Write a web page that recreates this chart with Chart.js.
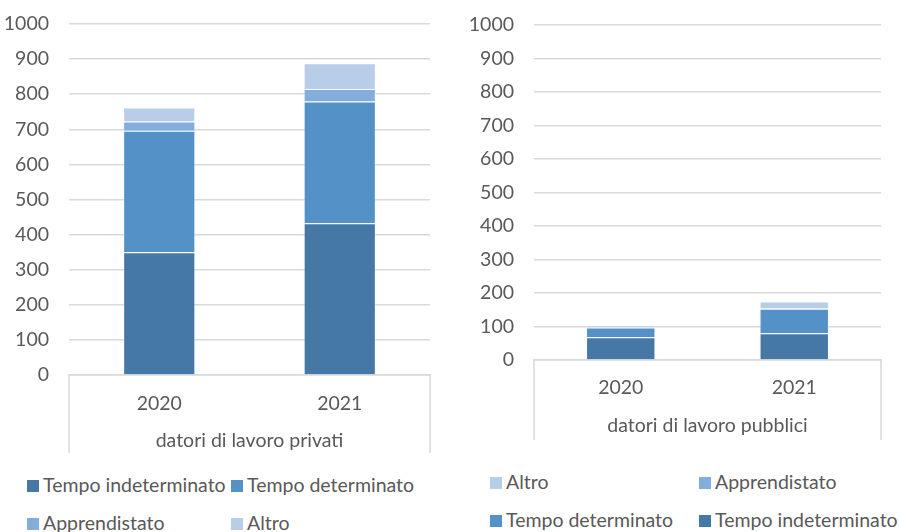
<!DOCTYPE html>
<html>
<head>
<meta charset="utf-8">
<script src="https://cdn.jsdelivr.net/npm/chart.js@4.4.0/dist/chart.umd.min.js"></script>
<style>
  body { margin: 0; background: #fff; width: 899px; height: 532px; position: relative; overflow: hidden; font-family: Lato, sans-serif; }
  .wrap { position: absolute; top: 0; }
  .legend { position: absolute; font-size: 19.5px; color: #595959; }
  .legend .item { position: absolute; white-space: nowrap; line-height: 22px; }
  .legend .sw { display: inline-block; width: 12px; height: 12px; margin-right: 4px; vertical-align: 0px; }
</style>
</head>
<body>
<div class="wrap" style="left:0;width:450px;height:460px"><canvas id="privChart"></canvas></div>
<div class="wrap" style="left:450px;width:449px;height:445px"><canvas id="pubChart"></canvas></div>
<div class="legend" id="privLegend"></div>
<div class="legend" id="pubLegend"></div>
<script>
const years = ['2020', '2021'];
const seriesNames = ['Tempo indeterminato', 'Tempo determinato', 'Apprendistato', 'Altro'];
const seriesColors = ['#4678A6', '#5491C7', '#83ADDB', '#B8CDE8'];

// datori di lavoro privati
const privIndet = [350, 432];
const privDet = [346, 347];
const privAppr = [26, 36];
const privAltro = [40, 73];

// datori di lavoro pubblici
const pubIndet = [68, 80];
const pubDet = [29, 73];
const pubAppr = [1, 1];
const pubAltro = [6, 21];

const yTicks = [0, 100, 200, 300, 400, 500, 600, 700, 800, 900, 1000];
const grey = '#595959';
const lineGrey = '#d9d9d9';

// vertical lines of the category axis box (Excel multi-level axis look)
const boxLines = {
    id: 'boxLines',
    afterDraw(chart, args, opts) {
        const x = chart.scales.x;
        const ctx = chart.ctx;
        ctx.save();
        ctx.strokeStyle = lineGrey;
        ctx.lineWidth = 1.5;
        ctx.beginPath();
        [x.left, x.right].forEach(px => {
            ctx.moveTo(px, x.top);
            ctx.lineTo(px, x.top + opts.depth);
        });
        ctx.stroke();
        ctx.restore();
    }
};

function makeChart(id, values, group, cfg) {
    const datasets = seriesNames.map((name, i) => ({
        label: name,
        data: values[i],
        backgroundColor: seriesColors[i],
        borderColor: 'rgba(255,255,255,0.45)',
        borderWidth: 1,
        barPercentage: 0.4,
        categoryPercentage: 1
    }));
    return new Chart(document.getElementById(id), {
        type: 'bar',
        data: { labels: years, datasets: datasets },
        plugins: [boxLines],
        options: {
            responsive: true,
            maintainAspectRatio: false,
            animation: false,
            layout: { padding: { top: cfg.top, right: cfg.right, bottom: 0, left: 0 } },
            plugins: {
                legend: { display: false },
                tooltip: { enabled: false },
                boxLines: { depth: cfg.depth }
            },
            scales: {
                x: {
                    stacked: true,
                    grid: { display: false },
                    border: { display: true, color: lineGrey, width: 1.5 },
                    ticks: { color: grey, font: { family: 'Lato', size: 19.5 }, padding: cfg.tickPad },
                    title: { display: true, text: group, color: grey, font: { family: 'Lato', size: 19.5 }, padding: { top: 0, bottom: cfg.titlePad } },
                    afterFit: s => { s.height = cfg.xHeight; s.paddingLeft = 0; s.paddingRight = 0; }
                },
                y: {
                    stacked: true,
                    min: 0,
                    max: 1000,
                    afterBuildTicks: s => { s.ticks = yTicks.map(v => ({ value: v })); },
                    grid: { color: lineGrey, lineWidth: 1.5, drawTicks: false },
                    border: { display: false },
                    ticks: { color: grey, font: { family: 'Lato', size: 19.5 }, padding: 20, callback: v => String(v) },
                    afterFit: s => { s.width = cfg.yWidth; s.paddingTop = 0; s.paddingBottom = 0; }
                }
            }
        }
    });
}

function makeLegend(id, order, box) {
    const el = document.getElementById(id);
    el.style.left = box.left + 'px';
    el.style.top = box.top + 'px';
    order.forEach((idx, k) => {
        const item = document.createElement('div');
        item.className = 'item';
        item.style.left = (k % 2) * box.colGap + 'px';
        item.style.top = Math.floor(k / 2) * box.rowGap + 'px';
        item.innerHTML = '<span class="sw" style="background:' + seriesColors[idx] + '"></span>' + seriesNames[idx];
        el.appendChild(item);
    });
}

makeChart('privChart', [privIndet, privDet, privAppr, privAltro], 'datori di lavoro privati',
    { top: 24, right: 20, yWidth: 69, xHeight: 85, tickPad: 9, titlePad: 8, depth: 78 });
makeChart('pubChart', [pubIndet, pubDet, pubAppr, pubAltro], 'datori di lavoro pubblici',
    { top: 25, right: 18, yWidth: 84, xHeight: 85, tickPad: 8, titlePad: 8, depth: 80 });

makeLegend('privLegend', [0, 1, 2, 3], { left: 27, top: 474, colGap: 204, rowGap: 38 });
makeLegend('pubLegend', [3, 2, 1, 0], { left: 490, top: 471, colGap: 209, rowGap: 38 });
</script>
</body>
</html>
